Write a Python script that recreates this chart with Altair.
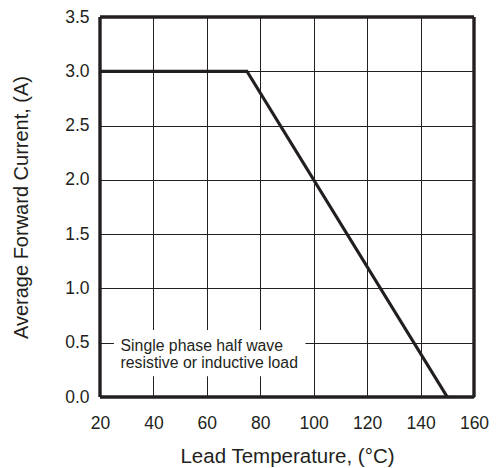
import altair as alt
import pandas as pd

# Derating curve
temps = [20, 75, 150]
currents = [3.0, 3.0, 0.0]

x_ticks = [20, 40, 60, 80, 100, 120, 140, 160]
y_ticks = [0.0, 0.5, 1.0, 1.5, 2.0, 2.5, 3.0, 3.5]
x_domain = [20, 160]
y_domain = [0, 3.5]

note_lines = ["Single phase half wave", "resistive or inductive load"]
note_x = [27.7, 27.7]
note_y = [0.426, 0.27]
box_x = [25.2]
box_x2 = [96.9]
box_y = [0.19]
box_y2 = [0.617]

INK = "#231f20"
FONT = "Liberation Sans"

curve = pd.DataFrame({"t": temps, "i": currents})
notes = pd.DataFrame({"t": note_x, "i": note_y, "txt": note_lines})
box = pd.DataFrame({"x": box_x, "x2": box_x2, "y": box_y, "y2": box_y2})
frame_x = pd.DataFrame({"x": x_domain})
frame_y = pd.DataFrame({"y": y_domain})

xs = alt.Scale(domain=x_domain, nice=False, zero=False)
ys = alt.Scale(domain=y_domain, nice=False, zero=False)

xaxis = alt.Axis(values=x_ticks, title="Lead Temperature, (°C)", format="d",
                 grid=True, gridColor=INK, gridWidth=1, gridOpacity=1,
                 domain=False, ticks=False, labelPadding=17,
                 labelFlush=False, labelOverlap=False,
                 labelFontSize=17.5, labelColor=INK, labelFont=FONT,
                 titleFontSize=20.5, titleFont=FONT, titleColor=INK,
                 titleFontWeight="normal", titlePadding=15)
yaxis = alt.Axis(values=y_ticks, title="Average Forward Current, (A)", format=".1f",
                 grid=True, gridColor=INK, gridWidth=1, gridOpacity=1,
                 domain=False, ticks=False, labelPadding=11,
                 labelFlush=False, labelOverlap=False,
                 labelFontSize=17.5, labelColor=INK, labelFont=FONT,
                 titleFontSize=20, titleFont=FONT, titleColor=INK,
                 titleFontWeight="normal", titlePadding=33)

line = alt.Chart(curve).mark_line(color=INK, strokeWidth=3.2, clip=True).encode(
    x=alt.X("t:Q", scale=xs, axis=xaxis),
    y=alt.Y("i:Q", scale=ys, axis=yaxis),
)

rect = alt.Chart(box).mark_rect(fill="white").encode(
    x=alt.X("x:Q", scale=xs), x2="x2:Q",
    y=alt.Y("y:Q", scale=ys), y2="y2:Q",
)

vert = alt.Chart(frame_x).mark_rule(color=INK, strokeWidth=3.4).encode(
    x=alt.X("x:Q", scale=xs),
)
horiz = alt.Chart(frame_y).mark_rule(color=INK, strokeWidth=3.4).encode(
    y=alt.Y("y:Q", scale=ys),
)

text = alt.Chart(notes).mark_text(align="left", baseline="alphabetic", fontSize=15.8,
                                  font=FONT, color=INK).encode(
    x=alt.X("t:Q", scale=xs),
    y=alt.Y("i:Q", scale=ys),
    text="txt:N",
)

chart = alt.layer(rect, line, text, vert, horiz).properties(
    width=374, height=380,
    background="white",
    autosize=alt.AutoSizeParams(type="none"),
    padding={"left": 92, "top": 9, "right": 15, "bottom": 75},
).configure_view(strokeWidth=0)

chart.save("out.html", embed_options={"renderer": "svg", "actions": False})
